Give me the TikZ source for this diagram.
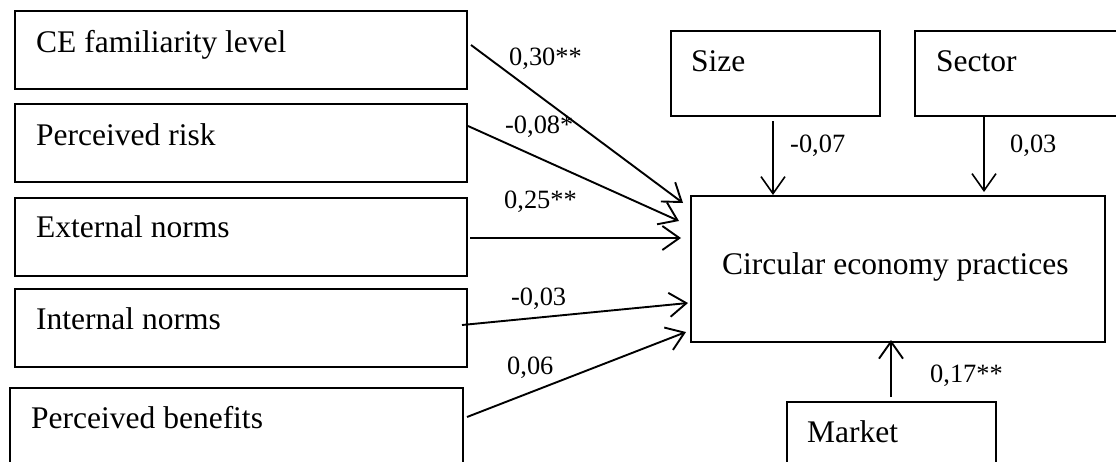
\documentclass[tikz,border=0pt]{standalone}
\usepackage{fontspec}
\setmainfont{Liberation Serif}
\usetikzlibrary{arrows.meta,calc}
\begin{document}
\begin{tikzpicture}[x=1pt,y=-1pt,
  box/.style={draw,line width=1.4pt,rectangle,inner sep=0pt,outer sep=0pt,anchor=north west},
  boxtext/.style={anchor=base west,inner sep=0pt,font=\fontsize{31.5}{36}\selectfont},
  coef/.style={anchor=base west,inner sep=0pt,font=\fontsize{26.4}{30}\selectfont},
  arr/.style={line width=1.9pt,-{Straight Barb[length=17pt,width=24pt,line width=1.9pt]}}]
\useasboundingbox (0,0) rectangle (1116,461);
\clip (0,0) rectangle (1116,461);
% boxes
\node[box,minimum width=452pt,minimum height=78pt] (fam) at (15,11) {};
\node[box,minimum width=452pt,minimum height=78pt] (risk) at (15,104) {};
\node[box,minimum width=452pt,minimum height=78pt] (ext) at (15,198) {};
\node[box,minimum width=452pt,minimum height=78pt] (int) at (15,289) {};
\node[box,minimum width=453pt,minimum height=90pt] (ben) at (10,388) {};
\node[box,minimum width=209pt,minimum height=85pt] (size) at (671,31) {};
\node[box,minimum width=210pt,minimum height=85pt] (sector) at (915,31) {};
\node[box,minimum width=414pt,minimum height=146pt] (cep) at (691,196) {};
\node[box,minimum width=209pt,minimum height=80pt] (market) at (787,402) {};
% texts
\node[boxtext] (tfam) at (36,52) {CE familiarity level};
\node[boxtext] (trisk) at (36,145) {Perceived risk};
\node[boxtext] (text) at (36,237) {External norms};
\node[boxtext] (tint) at (36,329) {Internal norms};
\node[boxtext] (tben) at (31,428) {Perceived benefits};
\node[boxtext] (tsize) at (691,71) {Size};
\node[boxtext] (tsector) at (936,71) {Sector};
\node[boxtext] (tmarket) at (807,442) {Market};
\node[boxtext] (tcep) at (722,274) {Circular economy practices};
% arrows
\draw[arr] ($(fam.east)+(4,-5)$) -- ($(cep.north west)+(-8,7)$);
\draw[arr] ($(risk.east)+(1,-17)$) -- ($(cep.north west)+(-12,25)$);
\draw[arr] ($(ext.east)+(3,1)$) -- ($(cep.north west)+(-10,42)$);
\draw[arr] ($(int.east)+(-5,-3)$) -- ($(cep.north west)+(-3,107)$);
\draw[arr] ($(ben.east)+(4,-16)$) -- ($(cep.north west)+(-5,136)$);
\draw[line width=1.4pt,-{Straight Barb[length=17pt,width=24pt,line width=1.6pt]}] ($(size.south)+(-2.5,5)$) -- ($(cep.north west)+(82,-1)$);
\draw[line width=1.4pt,-{Straight Barb[length=17pt,width=24pt,line width=1.6pt]}] ($(sector.south west)+(69,0)$) -- ($(cep.north west)+(293,-4)$);
\draw[arr] ($(market.north)+(-0.5,-5)$) -- ($(cep.south)+(-7,-2)$);
% coefficients
\node[coef] (c1) at (509,65) {0,30**};
\node[coef] (c2) at (505,133) {-0,08*};
\node[coef] (c3) at (504,208) {0,25**};
\node[coef] (c4) at (511,305) {-0,03};
\node[coef] (c5) at (507,374) {0,06};
\node[coef] (c6) at (790,152) {-0,07};
\node[coef] (c7) at (1010,152) {0,03};
\node[coef] (c8) at (930,382) {0,17**};
\end{tikzpicture}
\end{document}
